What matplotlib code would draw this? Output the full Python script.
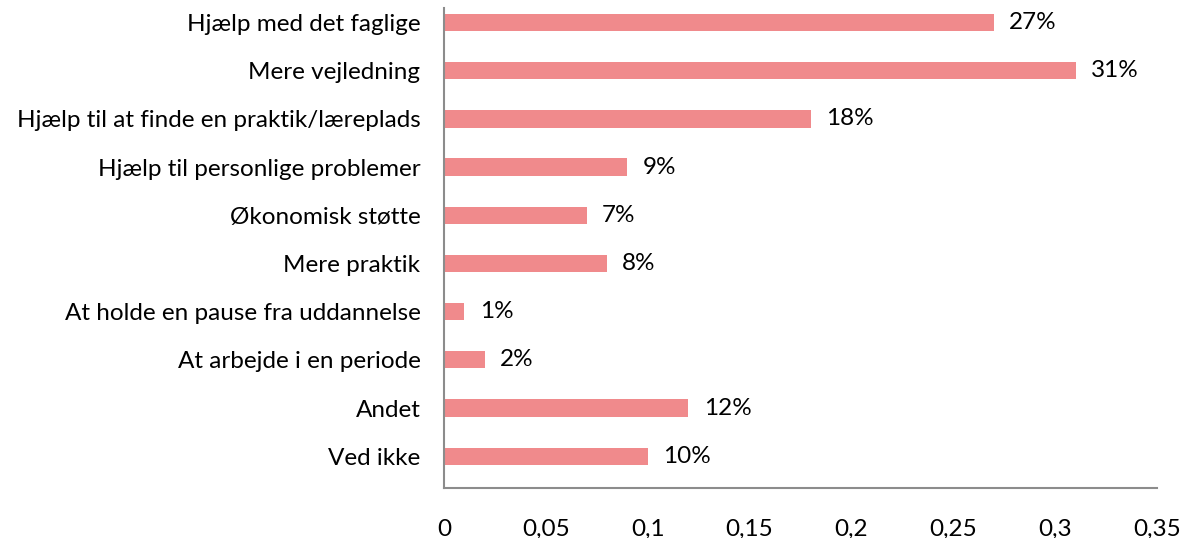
import matplotlib.pyplot as plt

# Data
categories = [
    'Hjælp med det faglige',
    'Mere vejledning',
    'Hjælp til at finde en praktik/læreplads',
    'Hjælp til personlige problemer',
    'Økonomisk støtte',
    'Mere praktik',
    'At holde en pause fra uddannelse',
    'At arbejde i en periode',
    'Andet',
    'Ved ikke',
]
values = [0.27, 0.31, 0.18, 0.09, 0.07, 0.08, 0.01, 0.02, 0.12, 0.10]
x_ticks = [0, 0.05, 0.1, 0.15, 0.2, 0.25, 0.3, 0.35]
x_tick_labels = ['0', '0,05', '0,1', '0,15', '0,2', '0,25', '0,3', '0,35']

plt.rcParams['font.family'] = ['Lato', 'DejaVu Sans']
FS = 17.5

fig = plt.figure(figsize=(11.83, 5.38), dpi=100)
ax = fig.add_axes([444 / 1183, 50 / 538, 713 / 1183, 480 / 538])

positions = list(range(len(categories)))
ax.barh(positions, values, height=0.36, color='#F08A8C')

for pos, val in zip(positions, values):
    ax.text(val + 0.0075, pos, f'{round(val * 100)}%', va='center', ha='left',
            fontsize=FS, color='black')

ax.set_yticks(positions)
ax.set_yticklabels(categories, fontsize=FS)
ax.set_ylim(len(categories) - 1 + 0.66, -0.3)
ax.set_xlim(0, 0.35)
ax.set_xticks(x_ticks)
ax.set_xticklabels(x_tick_labels, fontsize=FS)

ax.tick_params(axis='both', length=0)
ax.tick_params(axis='y', pad=17)
ax.tick_params(axis='x', pad=22)

for side in ['top', 'right']:
    ax.spines[side].set_visible(False)
for side in ['left', 'bottom']:
    ax.spines[side].set_color('#8C8C8C')
    ax.spines[side].set_linewidth(1.5)

fig.savefig('out.png', dpi=100)
